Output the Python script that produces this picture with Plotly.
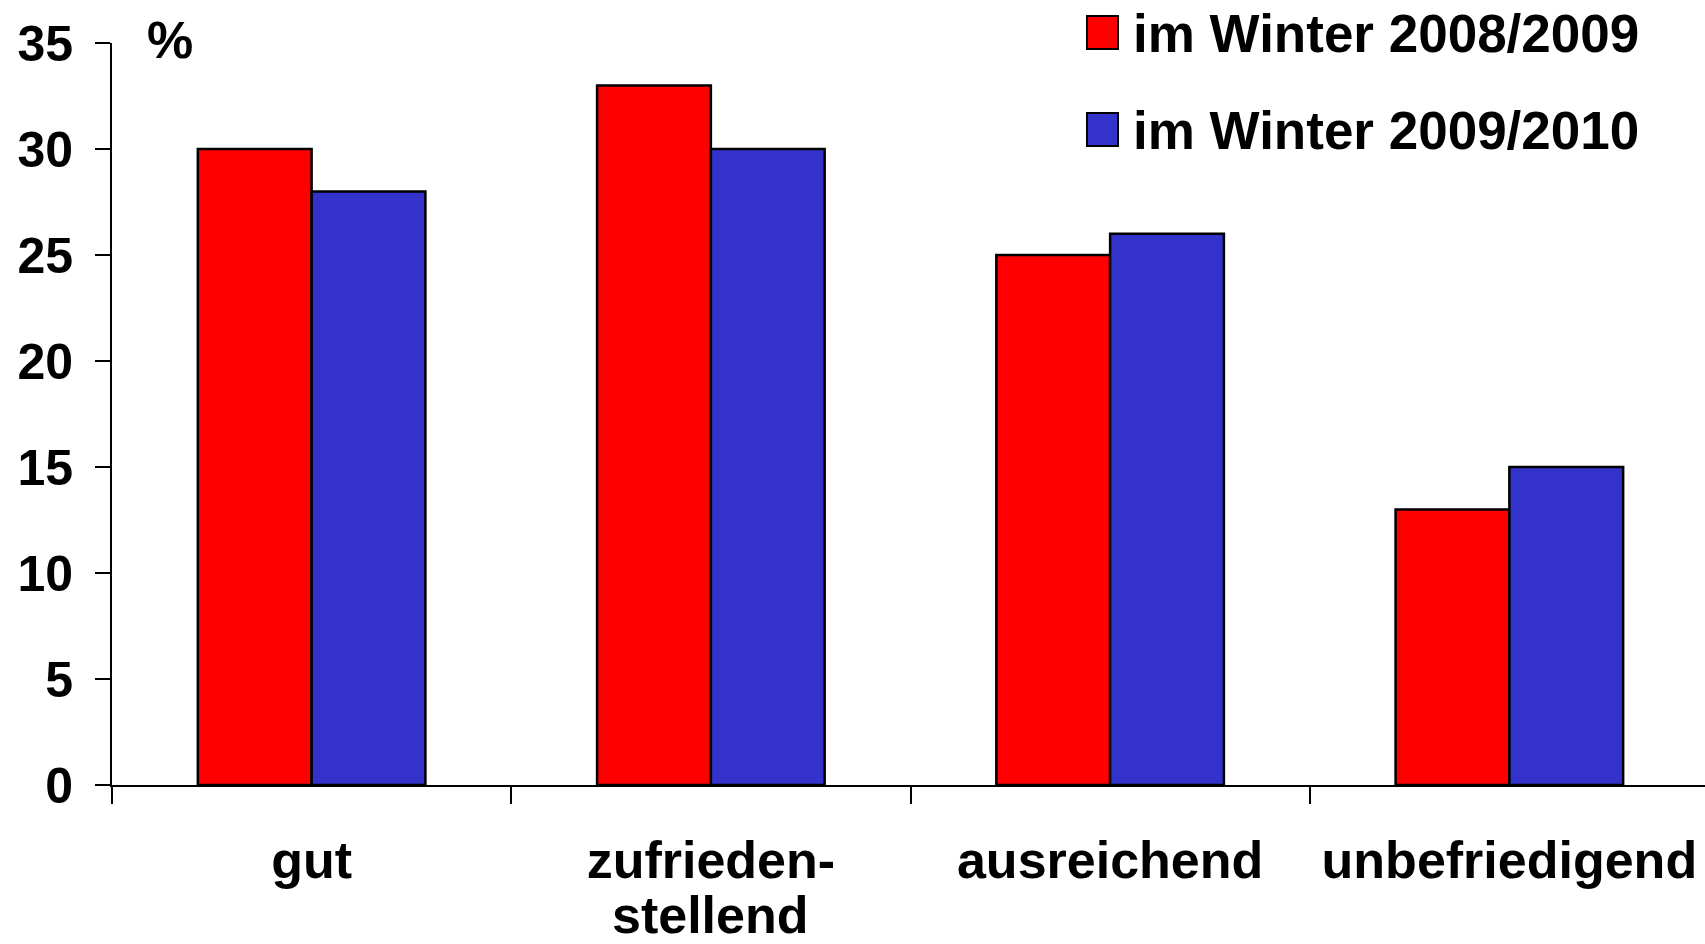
import plotly.graph_objects as go

# ---- data ----
categories = ["gut", "zufriedenstellend", "ausreichend", "unbefriedigend"]
label_line1 = ["gut", "zufrieden-", "ausreichend", "unbefriedigend"]
label_line2 = ["", "stellend", "", ""]
series_names = ["im Winter 2008/2009", "im Winter 2009/2010"]
values_2008_2009 = [30, 33, 25, 13]
values_2009_2010 = [28, 30, 26, 15]
y_ticks = [0, 5, 10, 15, 20, 25, 30, 35]
unit_label = "%"

colors = ["#FF0000", "#3333CC"]
FONT = "Liberation Sans, Arial, sans-serif"

W, H = 1705, 944
ML, MR, MT, MB = 112, 0, 43, 159
pw = W - ML - MR
ph = H - MT - MB


def px2x(px):
    return (px - ML) / pw


def py2y(py):
    return (H - MB - py) / ph


fig = go.Figure()
for name, vals, col in zip(series_names, [values_2008_2009, values_2009_2010], colors):
    fig.add_trace(go.Bar(
        x=categories, y=vals, name=name,
        marker=dict(color=col, line=dict(color="black", width=2.5)),
        showlegend=False,
    ))

# manual legend (large squares + text)
shapes = []
annotations = []
leg_rows = [(16, 49), (113, 146)]
for (y0, y1), name, col in zip(leg_rows, series_names, colors):
    shapes.append(dict(type="rect", xref="paper", yref="paper",
                       x0=px2x(1087), x1=px2x(1118), y0=py2y(y1), y1=py2y(y0),
                       fillcolor=col, line=dict(color="black", width=2)))
    annotations.append(dict(xref="paper", yref="paper", x=px2x(1131), y=py2y((y0 + y1) / 2 + 1),
                            xanchor="left", yanchor="middle", showarrow=False, text=name,
                            font=dict(family=FONT, size=53, color="black", weight="bold")))

annotations.append(dict(xref="paper", yref="paper", x=px2x(145), y=py2y(40),
                        xanchor="left", yanchor="middle", showarrow=False, text=unit_label,
                        font=dict(family=FONT, size=52, color="black", weight="bold")))

# second lines of the category labels
for cat, l2 in zip(categories, label_line2):
    if l2:
        annotations.append(dict(xref="x", yref="paper", x=cat, y=py2y(915),
                                xanchor="center", yanchor="middle", showarrow=False, text=l2,
                                font=dict(family=FONT, size=52, color="black", weight="bold")))

fig.update_layout(
    width=W, height=H,
    margin=dict(l=ML, r=MR, t=MT, b=MB, pad=0, autoexpand=False),
    paper_bgcolor="white", plot_bgcolor="white",
    barmode="group", bargap=0.43, bargroupgap=0,
    shapes=shapes, annotations=annotations,
    font=dict(family=FONT, color="black"),
)
fig.update_xaxes(
    type="category", range=[-0.5, 3.49], automargin=False,
    tickvals=categories, ticktext=label_line1,
    showline=True, linecolor="black", linewidth=2,
    ticks="outside", tickson="boundaries", ticklen=17, tickwidth=2, tickcolor="black",
    tickfont=dict(family=FONT, size=52, color="black", weight="bold"),
    ticklabelstandoff=29,
    showgrid=False, zeroline=False,
)
fig.update_yaxes(
    range=[0, 35], tickvals=y_ticks, automargin=False,
    showline=True, linecolor="black", linewidth=2,
    ticks="outside", ticklen=15, tickwidth=2, tickcolor="black",
    tickfont=dict(family=FONT, size=50, color="black", weight="bold"),
    ticklabelstandoff=12,
    showgrid=False, zeroline=False,
)

fig.write_html("out.html", config={"displayModeBar": False},
               post_script="document.body.style.margin='0';")
